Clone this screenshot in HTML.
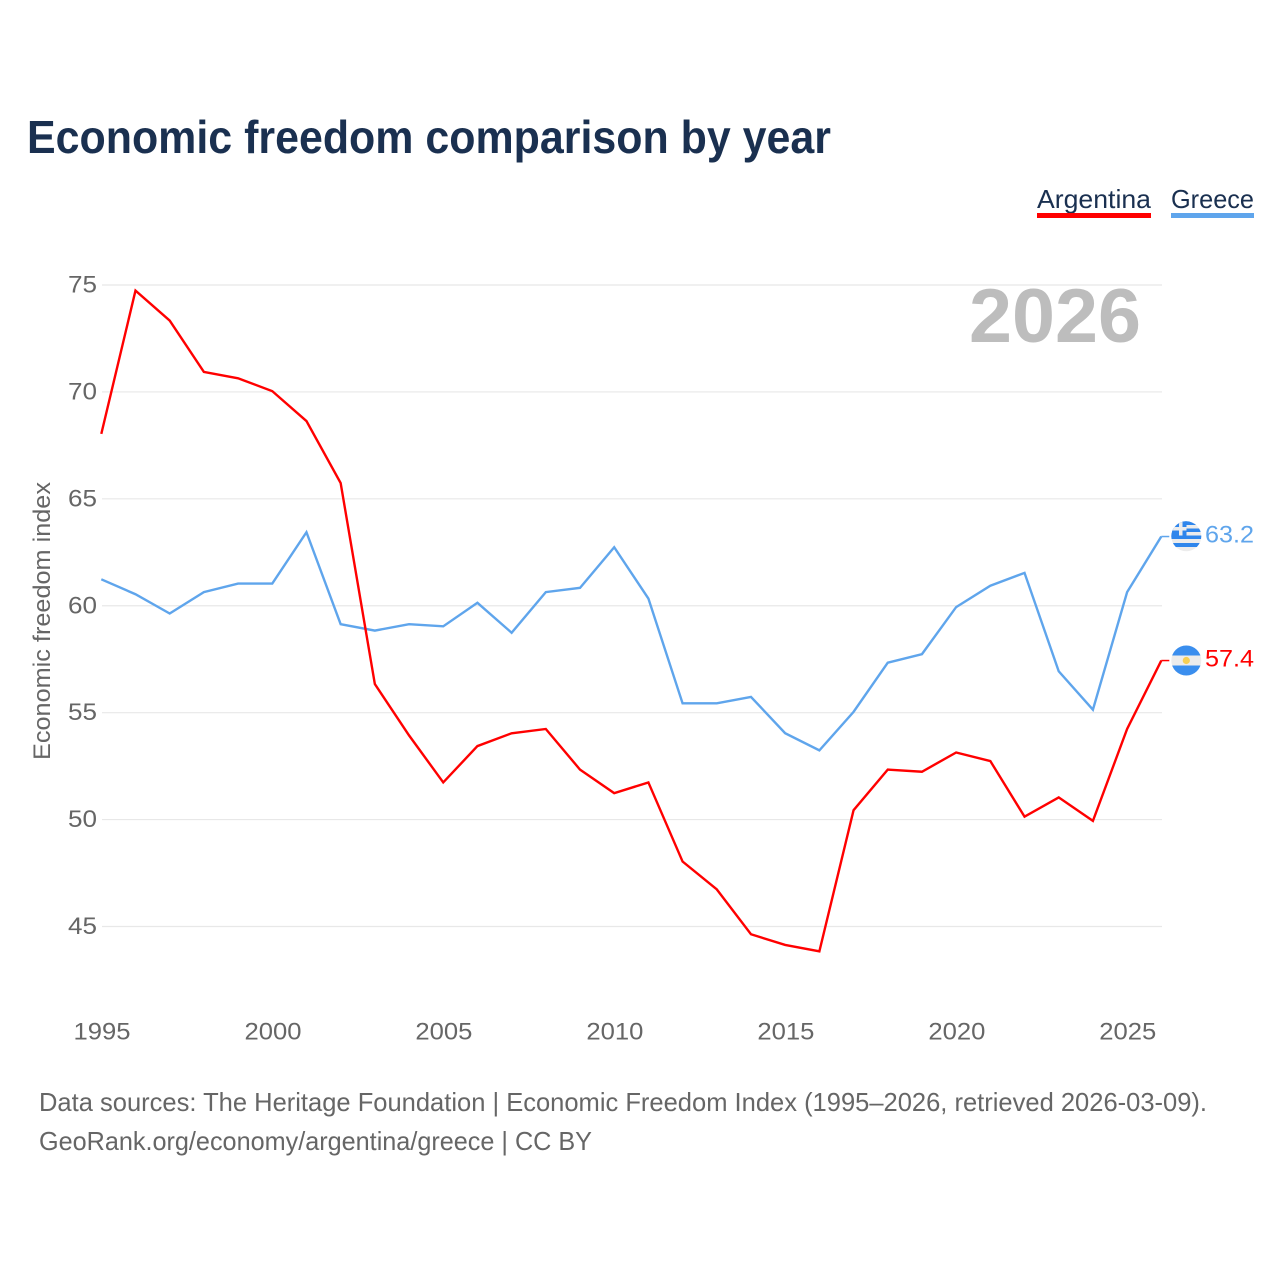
<!DOCTYPE html>
<html lang="en">
<head>
<meta charset="utf-8">
<title>Economic freedom comparison by year</title>
<style>
html,body{margin:0;padding:0;background:#fff;width:1280px;height:1280px;overflow:hidden}
svg{display:block}
text{font-family:"Liberation Sans",sans-serif}
</style>
</head>
<body>
<svg id="chart" xmlns="http://www.w3.org/2000/svg" width="1280" height="1280" viewBox="0 0 1280 1280">
  <defs>
    <clipPath id="flag-clip-gr"><circle cx="1186.3" cy="536.3" r="15"/></clipPath>
    <clipPath id="flag-clip-ar"><circle cx="1186.3" cy="660.5" r="15"/></clipPath>
  </defs>
  <text x="27" y="153" font-size="46" font-weight="700" fill="#1a3050" textLength="804" lengthAdjust="spacingAndGlyphs">Economic freedom comparison by year</text>

  <g>
    <g>
      <text x="1037" y="208" font-size="26" fill="#1a3050" textLength="114" lengthAdjust="spacingAndGlyphs">Argentina</text>
      <rect x="1037" y="213" width="114" height="5" fill="#ff0000"/>
    </g>
    <g>
      <text x="1171" y="208" font-size="26" fill="#1a3050" textLength="83" lengthAdjust="spacingAndGlyphs">Greece</text>
      <rect x="1171" y="213" width="83" height="5" fill="#5fa5ec"/>
    </g>
  </g>

  <g id="grid"></g>
  <g id="yticks"></g>
  <g id="xticks"></g>

  <text x="969" y="342" font-size="76" font-weight="700" fill="#bdbdbd" textLength="172" lengthAdjust="spacingAndGlyphs">2026</text>

  <text transform="translate(50,760) rotate(-90)" x="0" y="0" font-size="24" fill="#666666" textLength="278" lengthAdjust="spacingAndGlyphs">Economic freedom index</text>

  <g id="series" transform="translate(-0.7,-0.8)"></g>

  <g clip-path="url(#flag-clip-gr)">
    <rect x="1171" y="521" width="31" height="31" fill="#ececec"/>
    <rect x="1171" y="521" width="31" height="4" fill="#2f86ec"/>
    <rect x="1171" y="528.5" width="31" height="3.5" fill="#2f86ec"/>
    <rect x="1171" y="535.5" width="31" height="3.5" fill="#2f86ec"/>
    <rect x="1171" y="543" width="31" height="4" fill="#2f86ec"/>
    <rect x="1171" y="521" width="15.5" height="14.5" fill="#2f86ec"/>
    <rect x="1179" y="521" width="3.5" height="14.5" fill="#ececec"/>
    <rect x="1171" y="527" width="15.5" height="3.5" fill="#ececec"/>
  </g>
  <g clip-path="url(#flag-clip-ar)">
    <rect x="1171" y="645" width="31" height="31" fill="#ececec"/>
    <rect x="1171" y="645" width="31" height="10.5" fill="#3a8eee"/>
    <rect x="1171" y="665.5" width="31" height="10.5" fill="#3a8eee"/>
    <circle cx="1186.3" cy="660.5" r="3.6" fill="#f6cf55"/>
  </g>

  <text id="label-greece" x="1205" y="542.5" font-size="24" fill="#5fa5ec" textLength="49" lengthAdjust="spacingAndGlyphs"></text>
  <text id="label-argentina" x="1205" y="666.5" font-size="24" fill="#ff0000" textLength="49" lengthAdjust="spacingAndGlyphs"></text>

  <g>
    <text x="39" y="1111" font-size="26" fill="#666666" textLength="1168" lengthAdjust="spacingAndGlyphs">Data sources: The Heritage Foundation | Economic Freedom Index (1995–2026, retrieved 2026-03-09).</text>
    <text x="39" y="1150" font-size="26" fill="#666666" textLength="553" lengthAdjust="spacingAndGlyphs">GeoRank.org/economy/argentina/greece | CC BY</text>
  </g>
</svg>
<script>
const years = [1995,1996,1997,1998,1999,2000,2001,2002,2003,2004,2005,2006,2007,2008,2009,2010,2011,2012,2013,2014,2015,2016,2017,2018,2019,2020,2021,2022,2023,2024,2025,2026];
const argentinaValues = [68.0,74.7,73.3,70.9,70.6,70.0,68.6,65.7,56.3,53.9,51.7,53.4,54.0,54.2,52.3,51.2,51.7,48.0,46.7,44.6,44.1,43.8,50.4,52.3,52.2,53.1,52.7,50.1,51.0,49.9,54.2,57.4];
const greeceValues = [61.2,60.5,59.6,60.6,61.0,61.0,63.4,59.1,58.8,59.1,59.0,60.1,58.7,60.6,60.8,62.7,60.3,55.4,55.4,55.7,54.0,53.2,55.0,57.3,57.7,59.9,60.9,61.5,56.9,55.1,60.6,63.2];
const yTickValues = [45,50,55,60,65,70,75];
const xTickValues = [1995,2000,2005,2010,2015,2020,2025];

const NS = 'http://www.w3.org/2000/svg';
function xScale(year){ return 102 + (year - 1995) * (1162 - 102) / (2026 - 1995); }
function yScale(value){ return 285 + (75 - value) * (926.5 - 285) / (75 - 45); }
function make(tag, parentId){
  const el = document.createElementNS(NS, tag);
  document.getElementById(parentId).appendChild(el);
  return el;
}

yTickValues.forEach(function(v){
  const line = make('line', 'grid');
  
  
  line.setAttribute('x1', 102);
  line.setAttribute('x2', 1162);
  line.setAttribute('y1', yScale(v));
  line.setAttribute('y2', yScale(v));
  line.setAttribute('stroke', '#e8e8e8');
  line.setAttribute('stroke-width', '1.2');

  const t = make('text', 'yticks');
  
  
  t.setAttribute('x', 68);
  t.setAttribute('y', yScale(v) + 7.5);
  t.setAttribute('font-size', '24');
  t.setAttribute('fill', '#666666');
  t.setAttribute('textLength', '29');
  t.setAttribute('lengthAdjust', 'spacingAndGlyphs');
  t.textContent = v;
});

xTickValues.forEach(function(y){
  const t = make('text', 'xticks');
  
  
  t.setAttribute('x', xScale(y) - 28.5);
  t.setAttribute('y', 1039.5);
  t.setAttribute('font-size', '24');
  t.setAttribute('fill', '#666666');
  t.setAttribute('textLength', '57');
  t.setAttribute('lengthAdjust', 'spacingAndGlyphs');
  t.textContent = y;
});

function pathFor(values){
  return values.map(function(v, i){
    return (i ? 'L' : 'M') + xScale(years[i]).toFixed(2) + ' ' + yScale(v).toFixed(2);
  }).join(' ');
}

const greeceLine = make('path', 'series');


greeceLine.setAttribute('d', pathFor(greeceValues));
greeceLine.setAttribute('fill', 'none');
greeceLine.setAttribute('stroke', '#5fa5ec');
greeceLine.setAttribute('stroke-width', '2.4');

const argentinaLine = make('path', 'series');


argentinaLine.setAttribute('d', pathFor(argentinaValues));
argentinaLine.setAttribute('fill', 'none');
argentinaLine.setAttribute('stroke', '#ff0000');
argentinaLine.setAttribute('stroke-width', '2.4');

const lastX = xScale(years[years.length - 1]);
const greeceEnd = yScale(greeceValues[greeceValues.length - 1]);
const argentinaEnd = yScale(argentinaValues[argentinaValues.length - 1]);

const greeceConn = make('line', 'series');


greeceConn.setAttribute('x1', lastX);
greeceConn.setAttribute('x2', lastX + 8);
greeceConn.setAttribute('y1', greeceEnd);
greeceConn.setAttribute('y2', greeceEnd);
greeceConn.setAttribute('stroke', '#5fa5ec');
greeceConn.setAttribute('stroke-width', '1.5');

const argentinaConn = make('line', 'series');


argentinaConn.setAttribute('x1', lastX);
argentinaConn.setAttribute('x2', lastX + 8);
argentinaConn.setAttribute('y1', argentinaEnd);
argentinaConn.setAttribute('y2', argentinaEnd);
argentinaConn.setAttribute('stroke', '#ff0000');
argentinaConn.setAttribute('stroke-width', '1.5');

document.getElementById('label-greece').textContent = greeceValues[greeceValues.length - 1].toFixed(1);
document.getElementById('label-argentina').textContent = argentinaValues[argentinaValues.length - 1].toFixed(1);
</script>
</body>
</html>
